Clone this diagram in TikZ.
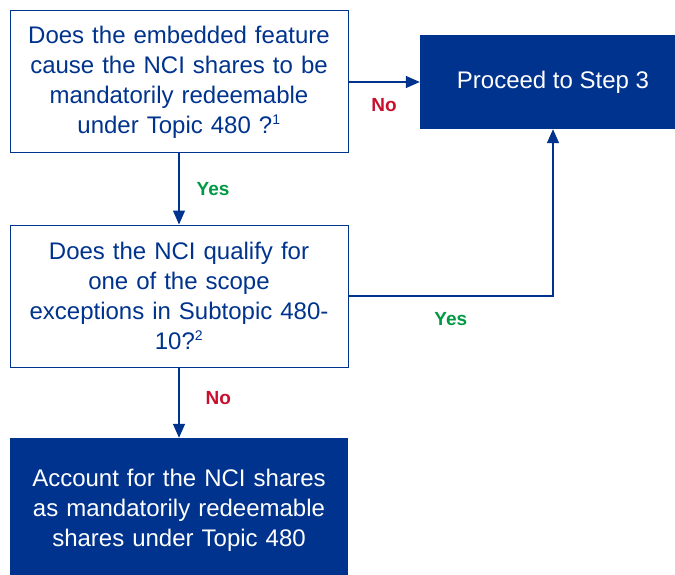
\documentclass[tikz,border=0pt]{standalone}
\usepackage{fontspec}
\setmainfont{Liberation Sans}
\usepackage{xcolor}
\usepackage{tikz}
\usetikzlibrary{shapes,arrows.meta,positioning}

\definecolor{kblue}{RGB}{0,51,141}
\definecolor{nored}{RGB}{200,16,46}
\definecolor{yesgreen}{RGB}{0,154,68}

\newcommand{\fnmark}[1]{\textsuperscript{\fontsize{14}{14}\selectfont #1}}

\begin{document}
\begin{tikzpicture}[x=1pt, y=-1pt, node distance=214pt, auto,
    question/.style={rectangle, draw=kblue, line width=1pt, fill=white, text=kblue, minimum width=338pt, minimum height=142pt, text width=334pt, align=center, inner sep=0pt, font=\fontsize{24}{30}\selectfont},
    outcome/.style={rectangle, fill=kblue, text=white, minimum height=144pt, align=center, inner sep=0pt, font=\fontsize{24}{30}\selectfont},
    flow/.style={draw=kblue, line width=1.4pt, -{Triangle[length=14pt, width=12pt]}},
    lbl/.style={inner sep=0pt, font=\fontsize{19}{21}\selectfont\bfseries}]
    \useasboundingbox (0,0) rectangle (675,575);
    \node [question] (embedded) at (179,82) {Does the embedded feature\\cause the NCI shares to be\\mandatorily redeemable\\under Topic 480 ?\fnmark{1}};
    \node [outcome, minimum width=266pt, minimum height=94pt, right of=embedded, node distance=374pt] (proceed) {Proceed to Step 3};
    \node [question, below of=embedded] (scope) {Does the NCI qualify for\\one of the scope\\exceptions in Subtopic 480-\\10?\fnmark{2}};
    \node [outcome, minimum width=338pt, text width=334pt, below of=scope] (account) {Account for the NCI shares\\as mandatorily redeemable\\shares under Topic 480};

    \draw [flow] (embedded) -- node [lbl, text=nored, midway, below=16pt] {No} (proceed);
    \draw [flow] (embedded) -- node [lbl, text=yesgreen, midway, right=17pt] {Yes} (scope);
    \draw [flow] (scope.east) -| node [lbl, text=yesgreen, pos=0.25, below=16pt] {Yes} (proceed.south);
    \draw [flow] (scope) -- node [lbl, text=nored, midway, right=26pt, yshift=5pt] {No} (account);
\end{tikzpicture}
\end{document}
